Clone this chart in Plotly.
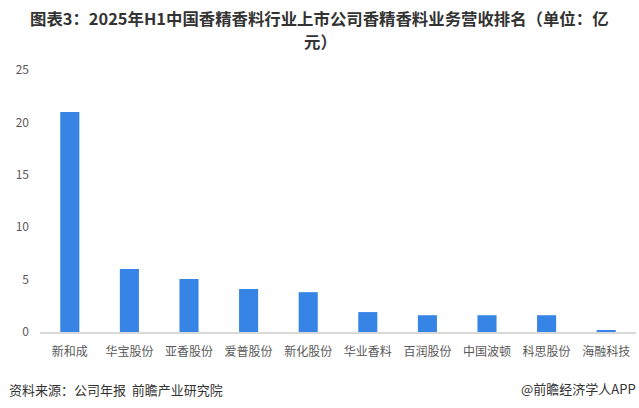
import plotly.graph_objects as go

categories = ["新和成", "华宝股份", "亚香股份", "爱普股份", "新化股份", "华业香料", "百润股份", "中国波顿", "科思股份", "海融科技"]
values = [21.0, 6.0, 5.05, 4.1, 3.8, 1.9, 1.6, 1.6, 1.6, 0.1]
y_ticks = [0, 5, 10, 15, 20, 25]

title_line1 = "图表3：2025年H1中国香精香料行业上市公司香精香料业务营收排名（单位：亿"
title_line2 = "元）"
source_text = "资料来源：公司年报  前瞻产业研究院"
brand_text = "@前瞻经济学人APP"

font_family = "Noto Sans CJK SC, Microsoft YaHei, sans-serif"

PLOT_TOP = 70.0
PLOT_BOTTOM = 332.0
PLOT_LEFT = 40.0
PLOT_H = PLOT_BOTTOM - PLOT_TOP
PLOT_W = 596.0


def py(p):
    return (PLOT_BOTTOM - p) / PLOT_H


def px(p):
    return (p - PLOT_LEFT) / PLOT_W


fig = go.Figure(
    go.Bar(
        x=categories,
        y=values,
        marker=dict(color="#3584E6", line=dict(width=0)),
        hoverinfo="x+y",
    )
)

title_font = dict(family=font_family, size=16.4, color="#333333")
foot_font = dict(family=font_family, size=13, color="#333333")

fig.update_layout(
    width=639,
    height=408,
    paper_bgcolor="white",
    plot_bgcolor="white",
    margin=dict(l=40, r=3, t=70, b=76),
    bargap=0.68,
    showlegend=False,
    font=dict(family=font_family, size=12, color="#595959"),
    xaxis=dict(
        type="category",
        showgrid=False,
        showline=True,
        linecolor="#D9D9D9",
        linewidth=1.5,
        ticks="",
        ticklabelstandoff=8,
        tickfont=dict(size=12, color="#595959"),
        fixedrange=True,
    ),
    yaxis=dict(
        range=[0, 25],
        tickvals=y_ticks,
        showgrid=False,
        showline=False,
        zeroline=False,
        ticks="",
        ticklabelstandoff=10,
        tickfont=dict(size=12, color="#595959"),
        fixedrange=True,
    ),
    annotations=[
        dict(
            text="<b>" + title_line1 + "</b>",
            xref="paper", yref="paper",
            x=px(319), y=py(18),
            xanchor="center", yanchor="middle",
            showarrow=False, font=title_font, borderpad=0,
        ),
        dict(
            text="<b>" + title_line2 + "</b>",
            xref="paper", yref="paper",
            x=px(320), y=py(41.5),
            xanchor="center", yanchor="middle",
            showarrow=False, font=title_font, borderpad=0,
        ),
        dict(
            text=source_text,
            xref="paper", yref="paper",
            x=px(7), y=py(389),
            xanchor="left", yanchor="middle",
            showarrow=False, font=foot_font,
        ),
        dict(
            text=brand_text,
            xref="paper", yref="paper",
            x=px(638), y=py(388),
            xanchor="right", yanchor="middle",
            showarrow=False, font=foot_font,
        ),
    ],
)

fig.write_html(
    "out.html",
    config={"displayModeBar": False},
    post_script="document.body.style.margin='0';document.body.style.padding='0';",
)
